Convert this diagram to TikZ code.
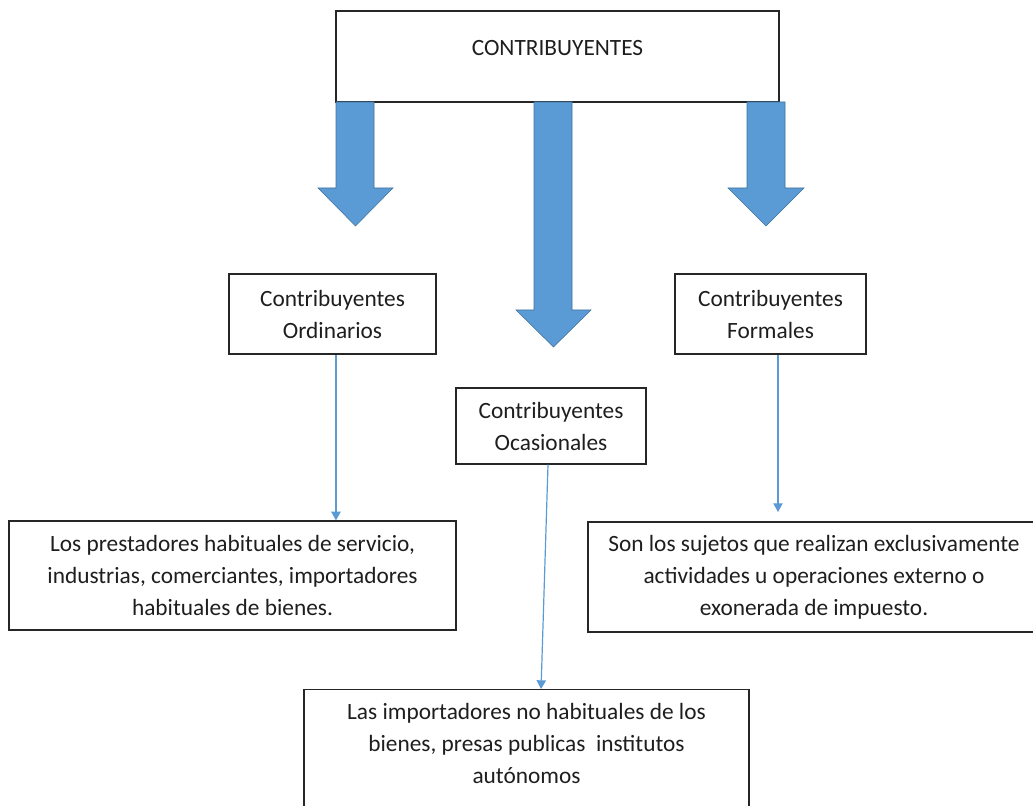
\documentclass[tikz,border=0pt]{standalone}
\usepackage{fontspec}
\setmainfont{Carlito}
\usepackage{xcolor}
\usetikzlibrary{arrows.meta}
\definecolor{arrowblue}{RGB}{91,155,213}
\definecolor{arrowedge}{RGB}{65,113,156}
\definecolor{boxline}{RGB}{38,38,38}
\definecolor{textgray}{RGB}{30,30,30}

\begin{document}
\begin{tikzpicture}[x=0.75pt,y=0.75pt,yscale=-1,xscale=1,
	box/.style={draw=boxline, line width=0.9pt, align=center, inner sep=0pt, text=textgray, font=\fontsize{17.5}{24}\selectfont},
	bigarrow/.style={fill=arrowblue, draw=arrowedge, line width=0.4pt},
	link/.style={draw=arrowblue, line width=0.9pt, -{Triangle[width=7pt,length=6.5pt]}}]
	\useasboundingbox (0,0) rectangle (1033,806);
	
	%Rect top
	\node[box, minimum width=332.25pt, minimum height=68.25pt, text height=11.2pt, text depth=12.8pt] (contrib) at (557.5,56.5) {CONTRIBUYENTES};
	%Rect
	\node[box, minimum width=155.25pt, minimum height=60pt] (ord) at (332.5,314) {Contribuyentes\\Ordinarios};
	%Rect
	\node[box, minimum width=143.25pt, minimum height=60pt] (form) at (770.5,314) {Contribuyentes\\Formales};
	%Rect
	\node[box, minimum width=142.5pt, minimum height=57pt] (oca) at (551,426) {Contribuyentes\\Ocasionales};
	%Rect
	\node[box, minimum width=335.25pt, minimum height=81.75pt] (prest) at (232.5,575.5) {Los prestadores habituales de servicio,\\industrias, comerciantes, importadores\\habituales de bienes.};
	%Rect
	\node[box, minimum width=339pt, minimum height=82.5pt] (suj) at (814,577) {Son los sujetos que realizan exclusivamente\\actividades u operaciones externo o\\exonerada de impuesto.};
	%Rect bottom
	\node[box, anchor=north, minimum width=333.75pt, inner ysep=10.5pt, text depth=40pt] (imp) at (526.5,689) {Las importadores no habituales de los\\bienes, presas publicas\ \ institutos\\aut\'onomos};
	
	%Down Arrows
	\draw[bigarrow] (336,102) -- (374,102) -- (374,188) -- (393,188) -- (355.5,226) -- (318,188) -- (336,188) -- cycle;
	\draw[bigarrow] (534,102) -- (572,102) -- (572,310) -- (591,310) -- (553.5,347) -- (516,310) -- (534,310) -- cycle;
	\draw[bigarrow] (747,102) -- (785,102) -- (785,188) -- (804,188) -- (766,226) -- (728,188) -- (747,188) -- cycle;
	
	%Straight Lines
	\coordinate (ordout) at ([xshift=2.6pt]ord.south);
	\draw[link] (ordout) -- (ordout |- prest.north);
	\draw[link] ([xshift=-2.25pt]oca.south) -- ([xshift=10.9pt]imp.north);
	\coordinate (formend) at (778,512);
	\draw[link] (form.south -| formend) -- (formend);
	
\end{tikzpicture}
\end{document}
